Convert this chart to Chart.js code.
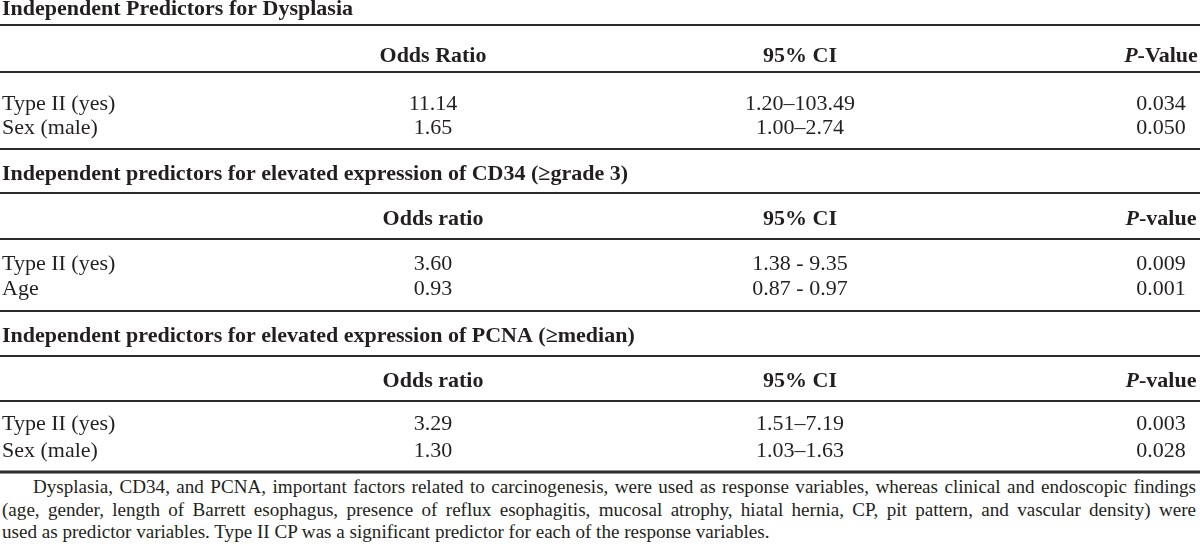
<!DOCTYPE html>
<html>
<head>
<meta charset="utf-8">
<script src="https://cdn.jsdelivr.net/npm/chart.js@4.4.1/dist/chart.umd.min.js"></script>
<style>
html, body { margin: 0; padding: 0; background: #fff; }
#wrap { position: absolute; left: 0; top: 0; width: 1200px; height: 476px; }
#note { position: absolute; left: 2px; top: 476px; width: 1194px; font: 19.1px "Liberation Serif", serif; line-height: 22.5px; color: #231f20; }
#note .j { text-align: justify; text-align-last: justify; }
</style>
</head>
<body>
<div id="wrap"><canvas id="myChart" width="1200" height="476"></canvas></div>
<div id="note">
  <div class="j" style="text-indent:31px">Dysplasia, CD34, and PCNA, important factors related to carcinogenesis, were used as response variables, whereas clinical and endoscopic findings</div>
  <div class="j">(age, gender, length of Barrett esophagus, presence of reflux esophagitis, mucosal atrophy, hiatal hernia, CP, pit pattern, and vascular density) were</div>
  <div>used as predictor variables. Type II CP was a significant predictor for each of the response variables.</div>
</div>
<script>
const sectionTitles = [
    'Independent Predictors for Dysplasia',
    'Independent predictors for elevated expression of CD34 (≥grade 3)',
    'Independent predictors for elevated expression of PCNA (≥median)'
];
const headerOdds = ['Odds Ratio', 'Odds ratio', 'Odds ratio'];
const headerCI = ['95% CI', '95% CI', '95% CI'];
const headerP = ['-Value', '-value', '-value'];

const predictorsDysplasia = ['Type II (yes)', 'Sex (male)'];
const oddsDysplasia = [11.14, 1.65];
const ciDysplasia = ['1.20–103.49', '1.00–2.74'];
const pDysplasia = [0.034, 0.050];

const predictorsCD34 = ['Type II (yes)', 'Age'];
const oddsCD34 = [3.60, 0.93];
const ciCD34 = ['1.38 - 9.35', '0.87 - 0.97'];
const pCD34 = [0.009, 0.001];

const predictorsPCNA = ['Type II (yes)', 'Sex (male)'];
const oddsPCNA = [3.29, 1.30];
const ciPCNA = ['1.51–7.19', '1.03–1.63'];
const pPCNA = [0.003, 0.028];

// layout (scale units = canvas px)
const colX = { label: 2, odds: 433, ci: 800, p: 1161 };
const layout = [
    { title: 14.5, rules: [25, 72], header: 62, rows: [110, 134] },
    { title: 180, rules: [149, 193, 239], header: 225, rows: [270, 295] },
    { title: 342, rules: [311, 356, 401], header: 387, rows: [430, 457] }
];
const bottomRule = 472;

const sections = [
    { labels: predictorsDysplasia, odds: oddsDysplasia, ci: ciDysplasia, p: pDysplasia },
    { labels: predictorsCD34, odds: oddsCD34, ci: ciCD34, p: pCD34 },
    { labels: predictorsPCNA, odds: oddsPCNA, ci: ciPCNA, p: pPCNA }
];

const FONT = '"Liberation Serif", "Times New Roman", serif';
const INK = '#231f20';

const tablePlugin = {
    id: 'tablePlugin',
    afterDatasetsDraw(chart) {
        const ctx = chart.ctx;
        const xs = chart.scales.x, ys = chart.scales.y;
        const X = v => xs.getPixelForValue(v);
        const Y = v => ys.getPixelForValue(v);
        ctx.save();
        ctx.fillStyle = INK;
        ctx.strokeStyle = '#2b2b2b';
        ctx.textBaseline = 'alphabetic';

        const rule = (y, w) => {
            ctx.lineWidth = w;
            ctx.beginPath();
            ctx.moveTo(X(0), Y(y));
            ctx.lineTo(X(1200), Y(y));
            ctx.stroke();
        };

        sections.forEach((sec, s) => {
            const L = layout[s];
            L.rules.forEach(r => rule(r, 2));

            // title
            ctx.font = 'bold 22px ' + FONT;
            ctx.textAlign = 'left';
            ctx.fillText(sectionTitles[s], X(colX.label), Y(L.title));

            // header
            ctx.textAlign = 'center';
            ctx.fillText(headerOdds[s], X(colX.odds), Y(L.header));
            ctx.fillText(headerCI[s], X(colX.ci), Y(L.header));
            ctx.font = 'bold italic 22px ' + FONT;
            const wP = ctx.measureText('P').width;
            ctx.font = 'bold 22px ' + FONT;
            const wRest = ctx.measureText(headerP[s]).width;
            const start = X(colX.p) - (wP + wRest) / 2;
            ctx.textAlign = 'left';
            ctx.font = 'bold italic 22px ' + FONT;
            ctx.fillText('P', start, Y(L.header));
            ctx.font = 'bold 22px ' + FONT;
            ctx.fillText(headerP[s], start + wP, Y(L.header));

            // rows
            ctx.font = '22px ' + FONT;
            sec.labels.forEach((lab, i) => {
                const y = Y(L.rows[i]);
                ctx.textAlign = 'left';
                ctx.fillText(lab, X(colX.label), y);
                ctx.textAlign = 'center';
                ctx.fillText(sec.odds[i].toFixed(2), X(colX.odds), y);
                ctx.fillText(sec.ci[i], X(colX.ci), y);
                ctx.fillText(sec.p[i].toFixed(3), X(colX.p), y);
            });
        });
        rule(bottomRule, 3);
        ctx.restore();
    }
};

// one invisible point per odds-ratio cell
const datasets = sections.map((sec, s) => ({
    label: sectionTitles[s],
    data: sec.odds.map((v, i) => ({ x: colX.odds, y: layout[s].rows[i] })),
    pointRadius: 0,
    showLine: false
}));

const ctx = document.getElementById('myChart').getContext('2d');
window.myChart = new Chart(ctx, {
    type: 'scatter',
    data: { datasets: datasets },
    options: {
        responsive: false,
        animation: false,
        layout: { padding: 0 },
        plugins: { legend: { display: false }, tooltip: { enabled: false } },
        scales: {
            x: { type: 'linear', min: 0, max: 1200, display: false },
            y: { type: 'linear', min: 0, max: 476, reverse: true, display: false }
        }
    },
    plugins: [tablePlugin]
});
</script>
</body>
</html>
